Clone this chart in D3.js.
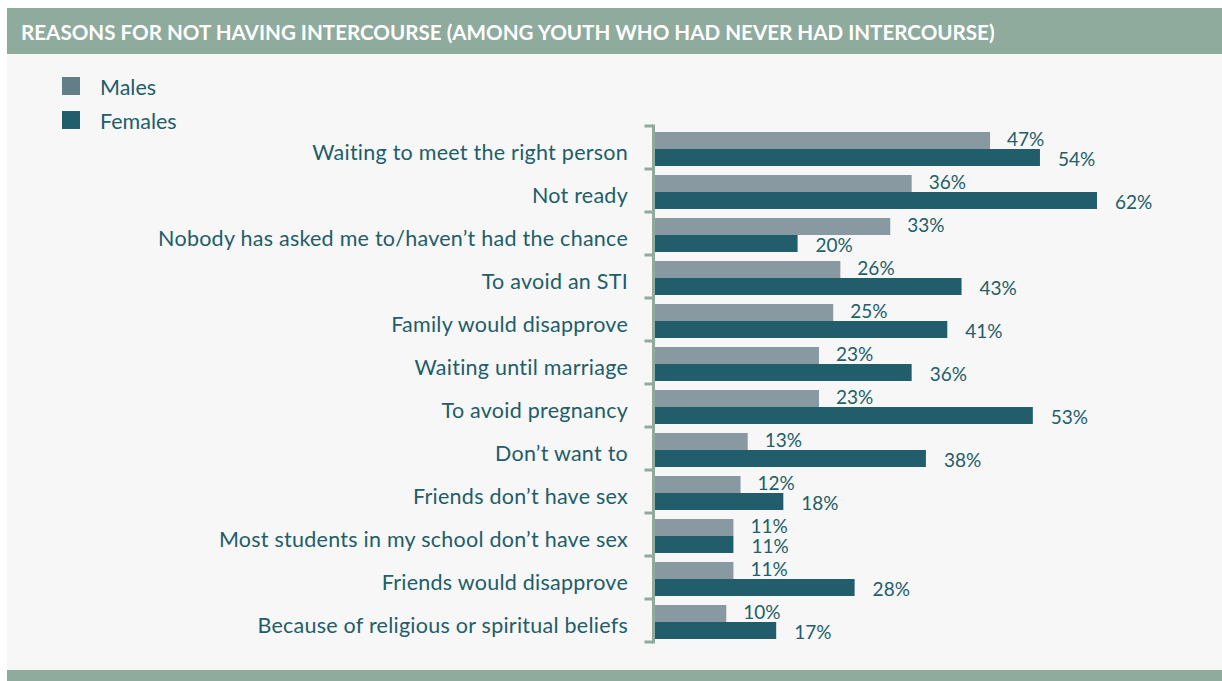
<!DOCTYPE html>
<html>
<head>
<meta charset="utf-8">
<script src="https://cdn.jsdelivr.net/npm/d3@7"></script>
<style>
  body { margin: 0; background: #ffffff; }
  svg { display: block; font-family: Lato, "Noto Sans", sans-serif; }
</style>
</head>
<body>
<script>
// chart data
var categories = [
    "Waiting to meet the right person",
    "Not ready",
    "Nobody has asked me to/haven\u2019t had the chance",
    "To avoid an STI",
    "Family would disapprove",
    "Waiting until marriage",
    "To avoid pregnancy",
    "Don\u2019t want to",
    "Friends don\u2019t have sex",
    "Most students in my school don\u2019t have sex",
    "Friends would disapprove",
    "Because of religious or spiritual beliefs"
];
var males = [47, 36, 33, 26, 25, 23, 23, 13, 12, 11, 11, 10];
var females = [54, 62, 20, 43, 41, 36, 53, 38, 18, 11, 28, 17];
var seriesNames = ["Males", "Females"];

var titleText = "REASONS FOR NOT HAVING INTERCOURSE (AMONG YOUTH WHO HAD NEVER HAD INTERCOURSE)";

var W = 1222, H = 681;
var teal = "#215d6a", grey = "#8899a1", greyLegend = "#627e89", sage = "#8eab9e";

var svg = d3.select("body").append("svg")
    .attr("width", W)
    .attr("height", H);

// panel + header + footer
svg.append("rect").attr("x", 7).attr("y", 8).attr("width", W - 7).attr("height", H - 8).attr("fill", "#f7f7f7");
svg.append("rect").attr("x", 7).attr("y", 8).attr("width", W - 7).attr("height", 46).attr("fill", sage);
svg.append("rect").attr("x", 7).attr("y", 670).attr("width", W - 7).attr("height", 11).attr("fill", sage);

svg.append("text")
    .attr("x", 21)
    .attr("y", 33)
    .attr("dy", "0.35em")
    .attr("fill", "#ffffff")
    .style("font-size", "20.6px")
    .style("font-weight", "bold")
    .text(titleText);

// legend
var legend = svg.selectAll(".legend")
    .data(seriesNames)
    .enter().append("g")
    .attr("class", "legend")
    .attr("transform", function (d, i) {
        return "translate(62," + (77 + i * 34) + ")";
    });

legend.append("rect")
    .attr("width", 18)
    .attr("height", 18)
    .attr("fill", function (d, i) { return i === 0 ? greyLegend : teal; });

legend.append("text")
    .attr("x", 38)
    .attr("y", 10)
    .attr("dy", "0.35em")
    .attr("fill", teal)
    .style("font-size", "21.5px")
    .text(function (d) { return d; });

// scales
var x0 = 655;
var x = d3.scaleLinear()
    .domain([0, 62])
    .range([x0, x0 + 442]);

var y = d3.scaleBand()
    .domain(categories)
    .range([126, 642]);

var barH = 17, barTop = 6;

var g = svg.append("g");

// category labels
g.selectAll(".cat")
    .data(categories)
    .enter().append("text")
    .attr("class", "cat")
    .attr("x", 628)
    .attr("y", function (d) { return y(d) + barTop + barH + 3; })
    .attr("dy", "0.35em")
    .attr("text-anchor", "end")
    .attr("fill", teal)
    .style("font-size", "21.5px")
    .style("letter-spacing", "0.25px")
    .text(function (d) { return d; });

// bars
var rows = categories.map(function (c, i) {
    return { cat: c, m: males[i], f: females[i] };
});

g.selectAll(".bar-m")
    .data(rows)
    .enter().append("rect")
    .attr("class", "bar-m")
    .attr("x", x(0))
    .attr("y", function (d) { return y(d.cat) + barTop; })
    .attr("width", function (d) { return x(d.m) - x(0); })
    .attr("height", barH)
    .attr("fill", grey);

g.selectAll(".bar-f")
    .data(rows)
    .enter().append("rect")
    .attr("class", "bar-f")
    .attr("x", x(0))
    .attr("y", function (d) { return y(d.cat) + barTop + barH; })
    .attr("width", function (d) { return x(d.f) - x(0); })
    .attr("height", barH)
    .attr("fill", teal);

// value labels
g.selectAll(".lab-m")
    .data(rows)
    .enter().append("text")
    .attr("class", "lab-m")
    .attr("x", function (d) { return x(d.m) + 17; })
    .attr("y", function (d) { return y(d.cat) + barTop + barH / 2 - 1.5; })
    .attr("dy", "0.35em")
    .attr("fill", teal)
    .style("font-size", "19px")
    .text(function (d) { return d.m + "%"; });

g.selectAll(".lab-f")
    .data(rows)
    .enter().append("text")
    .attr("class", "lab-f")
    .attr("x", function (d) { return x(d.f) + 18; })
    .attr("y", function (d) { return y(d.cat) + barTop + barH * 1.5 + 1.5; })
    .attr("dy", "0.35em")
    .attr("fill", teal)
    .style("font-size", "19px")
    .text(function (d) { return d.f + "%"; });

// bracket axis
var ax = svg.append("g")
    .attr("transform", "translate(653.5,0)");

ax.append("line")
    .attr("x1", 0).attr("x2", 0)
    .attr("y1", y.range()[0] - 1.5)
    .attr("y2", y.range()[1] + 1.5)
    .attr("stroke", sage)
    .attr("stroke-width", 3);

var edges = categories.map(function (c) { return y(c); }).concat([y.range()[1]]);
ax.selectAll(".tick-edge")
    .data(edges)
    .enter().append("line")
    .attr("class", "tick-edge")
    .attr("x1", -9).attr("x2", 0)
    .attr("y1", function (d) { return d; })
    .attr("y2", function (d) { return d; })
    .attr("stroke", sage)
    .attr("stroke-width", 3);
</script>
</body>
</html>
